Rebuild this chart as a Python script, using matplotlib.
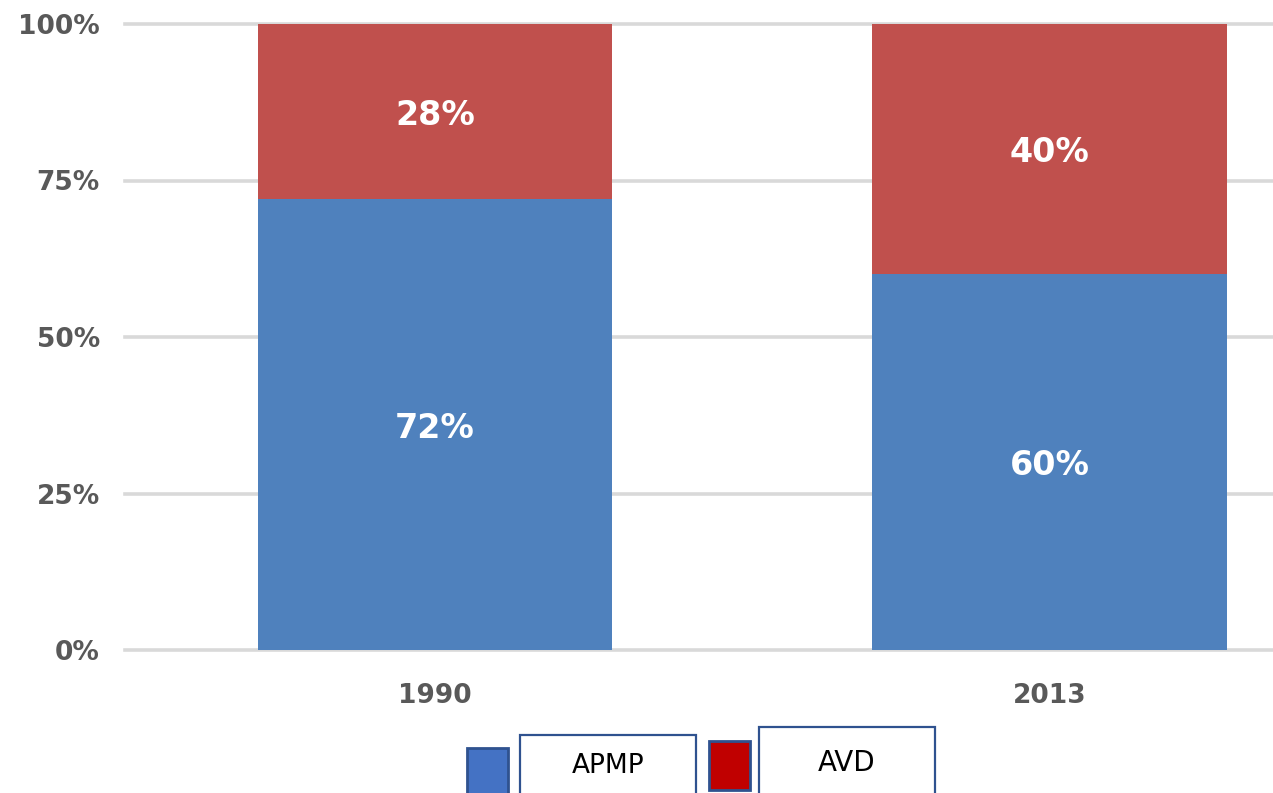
import matplotlib.pyplot as plt
from matplotlib.patches import Rectangle

# Data
years = ["1990", "2013"]
apmp = [72, 60]
avd = [28, 40]
y_ticks = [0, 25, 50, 75, 100]
y_tick_labels = ["0%", "25%", "50%", "75%", "100%"]

blue = "#4F81BD"
red = "#C0504D"

fig = plt.figure(figsize=(12.73, 7.93), dpi=100)
ax = fig.add_axes([125 / 1273, 143 / 793, 1 - 125 / 1273, 626 / 793])

x = range(len(years))
width = 0.577
ax.bar(x, apmp, width, color=blue, zorder=3)
ax.bar(x, avd, width, bottom=apmp, color=red, zorder=3)

# Value labels in the middle of each segment
for i in x:
    ax.text(i, apmp[i] / 2, f"{apmp[i]}%", ha="center", va="center_baseline",
            color="white", fontsize=24, fontweight="bold", zorder=4)
    ax.text(i, apmp[i] + avd[i] / 2, f"{avd[i]}%", ha="center",
            va="center_baseline", color="white", fontsize=24,
            fontweight="bold", zorder=4)

ax.set_xlim(-0.504, 1.363)
ax.set_ylim(0, 100)
ax.set_xticks(list(x))
ax.set_xticklabels(years)
ax.set_yticks(y_ticks)
ax.set_yticklabels(y_tick_labels)
ax.tick_params(axis="both", length=0, labelsize=19, labelcolor="#595959")
ax.tick_params(axis="y", pad=18)
ax.tick_params(axis="x", pad=24)
for lbl in ax.get_xticklabels() + ax.get_yticklabels():
    lbl.set_fontweight("bold")

ax.grid(axis="y", color="#D9D9D9", linewidth=2.6, zorder=0)
for line in ax.get_ygridlines():
    line.set_clip_on(False)
for s in ax.spines.values():
    s.set_visible(False)

# Legend made of boxes at the bottom
W, H = 1273, 793
edge = "#2F528F"

def fig_rect(x0, y0, x1, y1, fc, ec, lw):
    r = Rectangle((x0 / W, 1 - y1 / H), (x1 - x0) / W, (y1 - y0) / H,
                  transform=fig.transFigure, facecolor=fc, edgecolor=ec,
                  linewidth=lw, clip_on=False)
    fig.patches.append(r)

fig_rect(467, 748, 508, 800, "#4472C4", edge, 2)
fig_rect(520, 735, 696, 800, "white", edge, 1.6)
fig_rect(709, 741, 750, 790, "#C00000", edge, 2)
fig_rect(759, 727, 935, 800, "white", edge, 1.6)

fig.text(608 / W, 1 - 766 / H, "APMP", ha="center", va="center",
         fontsize=19, color="black")
fig.text(847 / W, 1 - 763 / H, "AVD", ha="center", va="center",
         fontsize=20, color="black")

fig.savefig("out.png", dpi=100)
